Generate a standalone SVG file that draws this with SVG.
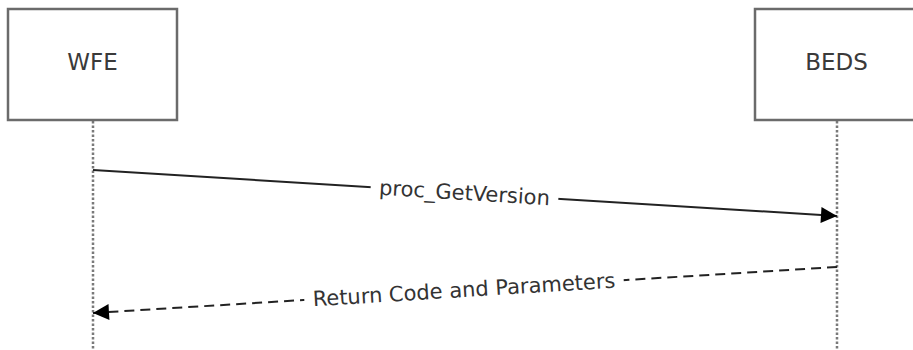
<svg xmlns="http://www.w3.org/2000/svg" width="913" height="350" viewBox="0 0 913 350">
<style>
.box{fill:#fff;stroke:#6b6b6b;stroke-width:2.5}
.life{stroke:#7a7a7a;stroke-width:2.5;stroke-dasharray:2.5,2;fill:none}
.msg{stroke:#222;stroke-width:2;fill:none}
.dash{stroke-dasharray:10,6}
.t{font-family:"DejaVu Sans",Verdana,sans-serif;font-size:21px;fill:#333;text-anchor:middle;dominant-baseline:central}
.h{font-size:23px;fill:#3a3a3a}
.bg{fill:#fff}
</style>
<defs>
<marker id="ah" viewBox="0 0 10 10" refX="10" refY="5" markerWidth="24" markerHeight="16" markerUnits="userSpaceOnUse" orient="auto">
<path d="M0,0 L10,5 L0,10 Z" fill="#000"/>
</marker>
</defs>
<g id="lifelines">
<line class="life" x1="93" y1="121" x2="93" y2="350"/>
<line class="life" x1="837" y1="121" x2="837" y2="350"/>
</g>
<g id="WFE">
<rect class="box" x="8" y="9" width="169" height="111"/>
<text class="t h" x="92.5" y="62">WFE</text>
</g>
<g id="BEDS">
<rect class="box" x="755" y="9" width="166" height="111"/>
<text class="t h" x="836.5" y="62">BEDS</text>
</g>
<g id="connectors">
<line class="msg" x1="93" y1="170" x2="837" y2="216" marker-end="url(#ah)"/>
<g transform="translate(464.5,193) rotate(3.54)">
<rect class="bg" x="-94" y="-13" width="188" height="26"/>
<text class="t" x="0" y="0">proc_GetVersion</text>
</g>
<line class="msg dash" x1="837" y1="267" x2="93" y2="313" marker-end="url(#ah)"/>
<g transform="translate(464,290) rotate(-3.54)">
<rect class="bg" x="-160" y="-13" width="320" height="26"/>
<text class="t" x="0" y="0">Return Code and Parameters</text>
</g>
</g>
</svg>
